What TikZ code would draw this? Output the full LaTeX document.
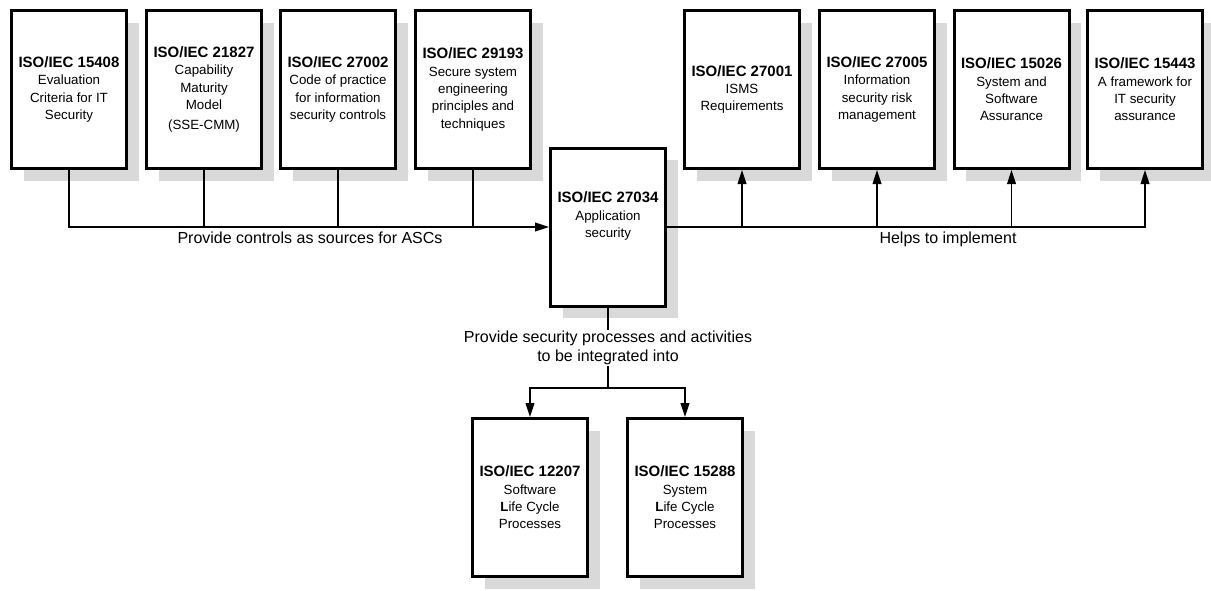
\documentclass[tikz,border=0pt]{standalone}
\usepackage{fontspec}
\setmainfont{Liberation Sans}
\usetikzlibrary{arrows.meta,shadows}
\definecolor{shadowgray}{RGB}{217,217,217}
\newcommand{\ttl}[1]{{\fontsize{11.25}{13}\selectfont\bfseries #1}}
\tikzset{
  stdbox/.style={draw, line width=2.25pt, fill=white, minimum width=86.25pt,
    minimum height=118.5pt, inner sep=0pt, align=center,
    font=\fontsize{10}{13}\selectfont,
    drop shadow={shadow xshift=9pt, shadow yshift=-9pt, fill=shadowgray, opacity=1, draw=none}},
  boxtext/.style={inner sep=0pt, align=center, font=\fontsize{10}{13}\selectfont},
  conn/.style={line width=1.3pt},
  arr/.style={conn, -{Triangle[length=10.5pt,width=6.5pt]}},
  lbl/.style={font=\fontsize{12}{14}\selectfont, inner sep=1pt, align=center},
}
\begin{document}
\begin{tikzpicture}[x=0.75pt,y=-0.75pt]
\useasboundingbox (0,0) rectangle (1211,590);
% top left boxes
\node[stdbox] (b1) at (69,89.5) {\ttl{ISO/IEC 15408}\\Evaluation\\Criteria for IT\\Security};
\node[stdbox] (b2) at (204,89.5) {\ttl{ISO/IEC 21827}\\Capability\\Maturity\\Model\\[2pt](SSE-CMM)};
\node[stdbox] (b3) at (338,89.5) {\ttl{ISO/IEC 27002}\\Code of practice\\for information\\security controls};
\node[stdbox] (b4) at (473,89.5) {\ttl{ISO/IEC 29193}\\Secure system\\engineering\\principles and\\techniques};
% top right boxes
\node[stdbox] (r1) at (742,89.5) {\ttl{ISO/IEC 27001}\\ISMS\\Requirements};
\node[stdbox] (r2) at (877,89.5) {\ttl{ISO/IEC 27005}\\Information\\security risk\\management};
\node[stdbox] (r3) at (1011.5,89.5) {\ttl{ISO/IEC 15026}\\System and\\Software\\Assurance};
\node[stdbox] (r4) at (1145,89.5) {\ttl{ISO/IEC 15443}\\A framework for\\IT security\\assurance};
% center box
\node[stdbox] (c) at (608,227) {};
\node[boxtext] (ct) at (608,216) {\ttl{ISO/IEC 27034}\\Application\\security};
% bottom boxes
\node[stdbox] (d1) at (530,497.5) {\ttl{ISO/IEC 12207}\\Software\\\textbf{L}ife Cycle\\Processes};
\node[stdbox] (d2) at (685,497.5) {\ttl{ISO/IEC 15288}\\System\\\textbf{L}ife Cycle\\Processes};
% left connectors
\draw[arr] (b1.south) |- (c.west);
\draw[conn] (b2.south) -- (b2.south |- c.west);
\draw[conn] (b3.south) -- (b3.south |- c.west);
\draw[conn] (b4.south) -- (b4.south |- c.west);
\node[lbl] (lleft) at (310,238) {Provide controls as sources for ASCs};
% right connectors
\draw[arr] (c.east) -| (r4.south);
\draw[arr] (r1.south |- c.east) -- (r1.south);
\draw[arr] (r2.south |- c.east) -- (r2.south);
\draw[arr] (r3.south |- c.east) -- (r3.south);
\node[lbl] (lright) at (948,239) {Helps to implement};
% bottom connectors
\node[lbl] (lbot) at (608,348) {Provide security processes and activities\\to be integrated into};
\coordinate (split) at (608,388);
\draw[conn] (c.south) -- (lbot.north);
\draw[conn] (lbot.south) -- (split);
\draw[arr] (split) -| (d1.north);
\draw[arr] (split) -| (d2.north);
\end{tikzpicture}
\end{document}
